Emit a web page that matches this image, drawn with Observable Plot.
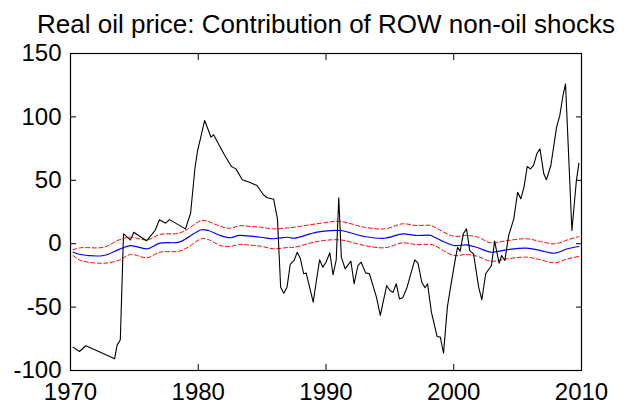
<!DOCTYPE html>
<html>
<head>
<meta charset="utf-8">
<script src="https://cdn.jsdelivr.net/npm/d3@7"></script>
<script src="https://cdn.jsdelivr.net/npm/@observablehq/plot@0.6"></script>
<style>
  html, body { margin: 0; padding: 0; background: #fff; }
  #chart svg { display: block; }
</style>
</head>
<body>
<div id="chart"></div>
<script>
const titleText = "Real oil price: Contribution of ROW non-oil shocks";
const xTicks = [1970, 1980, 1990, 2000, 2010];
const yTicks = [-100, -50, 0, 50, 100, 150];

// Black line: historical contribution
const blackYears = [1970.2,1970.7,1971.2,1972.6,1973.45,1973.65,1973.9,1974.15,1974.7,1974.95,1975.95,1976.4,1976.65,1976.95,1977.45,1977.75,1979.0,1979.4,1979.75,1979.95,1980.2,1980.5,1981.0,1981.2,1982.0,1982.6,1982.95,1983.45,1984.1,1984.6,1985.1,1985.4,1985.9,1986.2,1986.45,1986.7,1986.95,1987.2,1987.5,1987.75,1988.0,1988.25,1988.45,1989.0,1989.25,1989.5,1989.75,1990.0,1990.3,1990.55,1990.8,1991.0,1991.2,1991.5,1991.95,1992.2,1992.5,1992.75,1993.1,1993.4,1993.95,1994.25,1994.75,1995.0,1995.25,1995.5,1995.75,1996.0,1996.35,1996.6,1996.95,1997.2,1997.5,1997.75,1997.95,1998.25,1998.7,1998.95,1999.2,1999.5,1999.75,2000.15,2000.3,2000.5,2000.75,2001.0,2001.25,2001.55,2001.95,2002.2,2002.5,2002.95,2003.2,2003.55,2003.75,2004.0,2004.3,2004.7,2005.0,2005.25,2005.5,2005.75,2006.0,2006.25,2006.5,2006.75,2007.05,2007.25,2007.6,2008.05,2008.3,2008.55,2008.75,2009.25,2009.6,2009.8];
const blackValues = [-81.6,-85,-80.5,-86.8,-90.8,-80,-75.8,7.8,3,9,2.3,7.8,11,18.8,16.2,19,11.7,24,60.3,73.5,84,97.2,84,85.9,70.9,60.9,59,50.4,48,45.9,38.6,36.2,35.1,19.6,-34.3,-39,-34.3,-16.4,-13.2,-6.7,-11.9,-23.7,-23.2,-46.1,-29,-12.7,-18.5,-14.6,-7.2,-24.5,-12.7,36.2,-10.6,-19.8,-13.8,-31.6,-17.2,-14.6,-23,-23.7,-42.2,-56.6,-33,-36.9,-38.2,-31.6,-43.5,-42.7,-34.3,-25.1,-12.7,-15.4,-30.4,-34.8,-31.6,-54,-73.2,-73.7,-86.4,-50,-34.3,-10.6,-2.8,-5.9,7.8,11.7,-5.4,-8,-34.3,-44.2,-23.7,-17.2,2,-15.4,-9.3,-13.2,6.5,19.6,40.6,35.4,44.6,60.9,59,61.7,70.9,74.8,55.1,50.4,61.7,91.9,101,116.9,126,10.4,49.8,63.5];

// Smooth lines: median (blue) and bands (red dashed)
const bandYears = [1970.2,1970.8,1972.6,1973.8,1974.7,1976.0,1977.0,1978.5,1979.2,1980.25,1980.8,1981.7,1982.5,1983.2,1984.1,1984.9,1985.9,1987.0,1987.5,1989.3,1991.1,1993.0,1994.6,1996.0,1997.0,1998.2,1998.5,2000.0,2001.0,2001.9,2002.9,2004.2,2005.7,2006.8,2007.9,2008.9,2009.8];
const medianValues = [-6.7,-8.5,-9.3,-4.5,-1.5,-4,0.4,1.2,5,11,10.4,6.5,4.7,6.5,5.9,5.1,3.9,5.1,4.3,9.1,10.4,5.7,4.3,7.8,6.5,6.5,5.1,-1.4,-0.9,-3.2,-6.7,-4.6,-3.5,-5.4,-7.5,-4,-2.2];
const upperValues = [-4.8,-3.2,-2.8,3,5.1,3,7.3,8.3,11.7,18.3,17.5,13.8,12.2,14.1,13.6,13,11.7,12.5,13,15.7,17.5,13,11.7,15.7,14.4,14.4,13,5.9,6.5,5.1,0.7,2.5,3.9,1.7,-0.1,3,5.7];
const lowerValues = [-9.3,-13.2,-15.4,-13,-8.5,-11.1,-6.7,-5.9,-2.8,3.9,3.3,-1.4,-2.2,-0.6,-1.2,-2,-4,-3,-2.8,1.7,3,-1.4,-3.2,0.7,-0.6,-0.6,-1.4,-9.3,-8.5,-10.1,-13.8,-11.9,-10.6,-12.7,-15.1,-11.9,-10.1];

const fmt = d => String(d);
const blank = () => "";

const chart = Plot.plot({
  width: 625,
  height: 409,
  marginLeft: 70,
  marginRight: 44,
  marginTop: 53,
  marginBottom: 39,
  style: {fontFamily: "'Liberation Sans', Arial, sans-serif", fontSize: "24px", color: "#000", background: "#fff", overflow: "visible"},
  x: {domain: [1970, 2010]},
  y: {domain: [-100, 150]},
  marks: [
    Plot.line(upperValues, {x: bandYears, y: upperValues, stroke: "#ff0000", strokeWidth: 1, strokeDasharray: "4,2.5", curve: "catmull-rom"}),
    Plot.line(lowerValues, {x: bandYears, y: lowerValues, stroke: "#ff0000", strokeWidth: 1, strokeDasharray: "4,2.5", curve: "catmull-rom"}),
    Plot.line(medianValues, {x: bandYears, y: medianValues, stroke: "#0000ff", strokeWidth: 1.2, curve: "catmull-rom"}),
    Plot.line(blackValues, {x: blackYears, y: blackValues, stroke: "#000", strokeWidth: 1.1}),
    Plot.frame({stroke: "#000", strokeWidth: 1.2}),
    Plot.axisX({anchor: "bottom", ticks: xTicks, tickSize: -6, tickPadding: 18, tickFormat: fmt, label: null, fontSize: 24}),
    Plot.axisX({anchor: "top", ticks: xTicks, tickSize: -6, tickFormat: blank, label: null}),
    Plot.axisY({anchor: "left", ticks: yTicks, tickSize: -6, tickPadding: 15, tickFormat: fmt, label: null, fontSize: 24}),
    Plot.axisY({anchor: "right", ticks: yTicks, tickSize: -6, tickFormat: blank, label: null}),
    Plot.text([titleText], {frameAnchor: "top", dy: -21, lineAnchor: "bottom", fontSize: 26, fill: "#000"})
  ]
});
document.getElementById("chart").appendChild(chart);
</script>
</body>
</html>
